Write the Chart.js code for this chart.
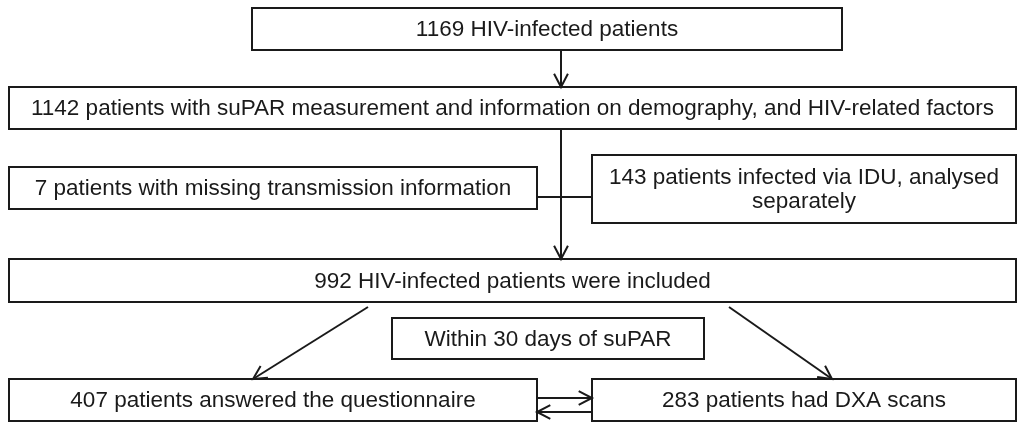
<!DOCTYPE html>
<html>
<head>
<meta charset="utf-8">
<script src="https://cdn.jsdelivr.net/npm/chart.js@4.4.1/dist/chart.umd.min.js"></script>
<style>
  html, body { margin: 0; padding: 0; background: #fff; }
  #wrap { width: 1018px; height: 423px; position: relative; }
</style>
</head>
<body>
<div id="wrap"><canvas id="flow"></canvas></div>
<script>
// FLOW CHART TEXT
var boxLabels = [
  ["1169 HIV-infected patients"],
  ["1142 patients with suPAR measurement and information on demography, and HIV-related factors"],
  ["7 patients with missing transmission information"],
  ["143 patients infected via IDU, analysed", "separately"],
  ["992 HIV-infected patients were included"],
  ["Within 30 days of suPAR"],
  ["407 patients answered the questionnaire"],
  ["283 patients had DXA scans"]
];

// layout of boxes in scale units: [left, top, right, bottom]
var boxLayout = [
  [252, 8, 842, 50],
  [9, 87, 1016, 129],
  [9, 167, 537, 209],
  [592, 155, 1016, 223],
  [9, 259, 1016, 302],
  [392, 318, 704, 359],
  [9, 379, 537, 421],
  [592, 379, 1016, 421]
];

// connectors: [x1, y1, x2, y2, arrowhead]
var links = [
  [561, 50, 561, 87, true],
  [561, 129, 561, 259, true],
  [537, 197, 592, 197, false],
  [368, 307, 253, 379, true],
  [729, 307, 832, 379, true],
  [537, 398, 592, 398, true],
  [592, 412, 537, 412, true]
];

var ink = "#1a1a1a";

var flowPlugin = {
  id: "flow",
  afterDraw: function (chart) {
    var ctx = chart.ctx;
    var sx = chart.scales.x, sy = chart.scales.y;
    ctx.save();
    ctx.strokeStyle = ink;
    ctx.fillStyle = ink;
    ctx.lineWidth = 2;

    boxLayout.forEach(function (b, i) {
      var x0 = sx.getPixelForValue(b[0]), y0 = sy.getPixelForValue(b[1]);
      var x1 = sx.getPixelForValue(b[2]), y1 = sy.getPixelForValue(b[3]);
      ctx.strokeRect(x0, y0, x1 - x0, y1 - y0);
      var lines = boxLabels[i];
      ctx.font = "22.5px 'Liberation Sans', Arial, sans-serif";
      ctx.textAlign = "center";
      ctx.textBaseline = "middle";
      var lh = 24;
      var cy = (y0 + y1) / 2 - (lines.length - 1) * lh / 2;
      lines.forEach(function (t, k) {
        ctx.fillText(t, (x0 + x1) / 2, cy + k * lh + 1);
      });
    });

    links.forEach(function (l) {
      var x0 = sx.getPixelForValue(l[0]), y0 = sy.getPixelForValue(l[1]);
      var x1 = sx.getPixelForValue(l[2]), y1 = sy.getPixelForValue(l[3]);
      ctx.beginPath();
      ctx.moveTo(x0, y0);
      ctx.lineTo(x1, y1);
      ctx.stroke();
      if (l[4]) {
        var a = Math.atan2(y1 - y0, x1 - x0);
        var len = 15, spread = 0.48;
        ctx.beginPath();
        ctx.moveTo(x1 - len * Math.cos(a - spread), y1 - len * Math.sin(a - spread));
        ctx.lineTo(x1, y1);
        ctx.lineTo(x1 - len * Math.cos(a + spread), y1 - len * Math.sin(a + spread));
        ctx.stroke();
      }
    });
    ctx.restore();
  }
};

new Chart("flow", {
  type: "scatter",
  data: { datasets: [{ data: [] }] },
  options: {
    responsive: true,
    maintainAspectRatio: false,
    animation: false,
    layout: { padding: 0 },
    plugins: { legend: { display: false }, tooltip: { enabled: false } },
    scales: {
      x: { type: "linear", min: 0, max: 1018, display: false },
      y: { type: "linear", min: 0, max: 423, reverse: true, display: false }
    }
  },
  plugins: [flowPlugin]
});
</script>
</body>
</html>
